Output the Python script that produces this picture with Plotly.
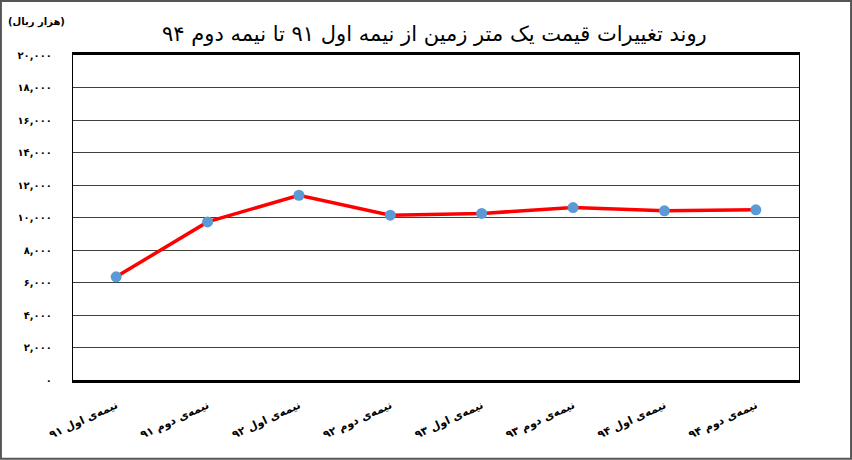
import plotly.graph_objects as go

# categories (half-years) and land price per square meter (thousand rials)
periods = ["نیمه‌ی اول ۹۱", "نیمه‌ی دوم ۹۱", "نیمه‌ی اول ۹۲", "نیمه‌ی دوم ۹۲",
           "نیمه‌ی اول ۹۳", "نیمه‌ی دوم ۹۳", "نیمه‌ی اول ۹۴", "نیمه‌ی دوم ۹۴"]
prices = [6350, 9730, 11370, 10140, 10250, 10610, 10410, 10470]

y_ticks = [0, 2000, 4000, 6000, 8000, 10000, 12000, 14000, 16000, 18000, 20000]
y_tick_labels = ["۰", "۲,۰۰۰", "۴,۰۰۰", "۶,۰۰۰", "۸,۰۰۰", "۱۰,۰۰۰",
                 "۱۲,۰۰۰", "۱۴,۰۰۰", "۱۶,۰۰۰", "۱۸,۰۰۰", "۲۰,۰۰۰"]

title_text = "روند تغییرات قیمت یک متر زمین از نیمه اول ۹۱ تا نیمه دوم ۹۴"
unit_text = "(هزار ریال)"

fnt = "DejaVu Sans"

fig = go.Figure()
fig.add_trace(go.Scatter(
    x=periods, y=prices, mode="lines+markers",
    line=dict(color="#ff0000", width=3.5),
    marker=dict(color="#5b9bd5", size=11),
    showlegend=False,
))

fig.update_layout(
    width=852, height=460,
    margin=dict(l=73, r=53, t=55, b=80),
    paper_bgcolor="white", plot_bgcolor="white",
    font=dict(family=fnt, color="black"),
    annotations=[
        dict(text=title_text, xref="paper", yref="paper", x=0.498, y=1.065,
             xanchor="center", yanchor="middle", showarrow=False,
             font=dict(size=21, family=fnt)),
        dict(text="<b>" + unit_text + "</b>", xref="paper", yref="paper",
             x=-0.008, y=1.10, xanchor="right", yanchor="middle",
             showarrow=False, font=dict(size=10, family=fnt)),
    ],
    shapes=[
        # outer border of the picture
        dict(type="rect", xref="paper", yref="paper",
             x0=-0.0993, x1=1.0717, y0=-0.2426, y1=1.166,
             line=dict(color="#555555", width=2)),
    ],
)

fig.update_xaxes(
    type="category", tickangle=-25, automargin=False,
    tickfont=dict(size=11, family=fnt),
    ticktext=["<b>" + p + "</b>" for p in periods], tickvals=periods,
    ticklabelstandoff=12,
    showline=True, linecolor="black", linewidth=2.5, mirror=True,
    ticks="", showgrid=False,
)
fig.update_yaxes(
    range=[0, 20000], tickvals=y_ticks, ticktext=["<b>" + t + "</b>" for t in y_tick_labels],
    tickfont=dict(size=10, family=fnt), ticklabelstandoff=18, automargin=False,
    showgrid=True, gridcolor="#404040", gridwidth=1.3,
    showline=True, linecolor="black", linewidth=1.3, mirror=True,
    zeroline=False, ticks="",
)

fig.write_html("out.html", config={"displayModeBar": False},
               post_script="document.body.style.margin='0';")
